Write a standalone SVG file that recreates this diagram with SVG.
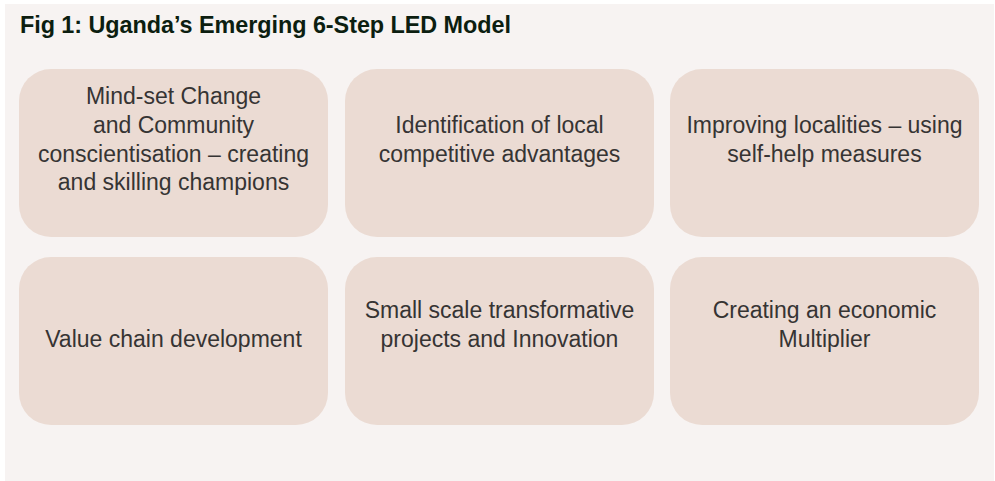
<svg xmlns="http://www.w3.org/2000/svg" width="995" height="481" viewBox="0 0 995 481">
<style>
.box{fill:#ebdbd3}
.t{font-family:"Liberation Sans",Arial,Helvetica,sans-serif;font-size:23px;fill:#363433;text-anchor:middle}
.title{font-family:"Liberation Sans",Arial,Helvetica,sans-serif;font-size:23.4px;font-weight:bold;fill:#0c1e10}
</style>
<rect x="0" y="0" width="995" height="481" fill="#ffffff"/>
<rect x="5" y="4" width="989" height="477" fill="#f7f3f2"/>
<text class="title" x="20" y="33" textLength="491" lengthAdjust="spacing">Fig 1: Uganda’s Emerging 6-Step LED Model</text>
<g id="connectors"></g>
<g id="node1">
<rect class="box" x="19" y="69" width="309" height="168" rx="32"/>
<text class="t" x="173.5" y="104">Mind-set Change</text>
<text class="t" x="173.5" y="133">and Community</text>
<text class="t" x="173.5" y="162">conscientisation – creating</text>
<text class="t" x="173.5" y="190">and skilling champions</text>
</g>
<g id="node2">
<rect class="box" x="345" y="69" width="309" height="168" rx="32"/>
<text class="t" x="499.5" y="133">Identification of local</text>
<text class="t" x="499.5" y="162">competitive advantages</text>
</g>
<g id="node3">
<rect class="box" x="670" y="69" width="309" height="168" rx="32"/>
<text class="t" x="824.5" y="133">Improving localities – using</text>
<text class="t" x="824.5" y="162">self-help measures</text>
</g>
<g id="node4">
<rect class="box" x="19" y="257" width="309" height="168" rx="32"/>
<text class="t" x="173.5" y="347">Value chain development</text>
</g>
<g id="node5">
<rect class="box" x="345" y="257" width="309" height="168" rx="32"/>
<text class="t" x="499.5" y="318">Small scale transformative</text>
<text class="t" x="499.5" y="347">projects and Innovation</text>
</g>
<g id="node6">
<rect class="box" x="670" y="257" width="309" height="168" rx="32"/>
<text class="t" x="824.5" y="318">Creating an economic</text>
<text class="t" x="824.5" y="347">Multiplier</text>
</g>
</svg>
